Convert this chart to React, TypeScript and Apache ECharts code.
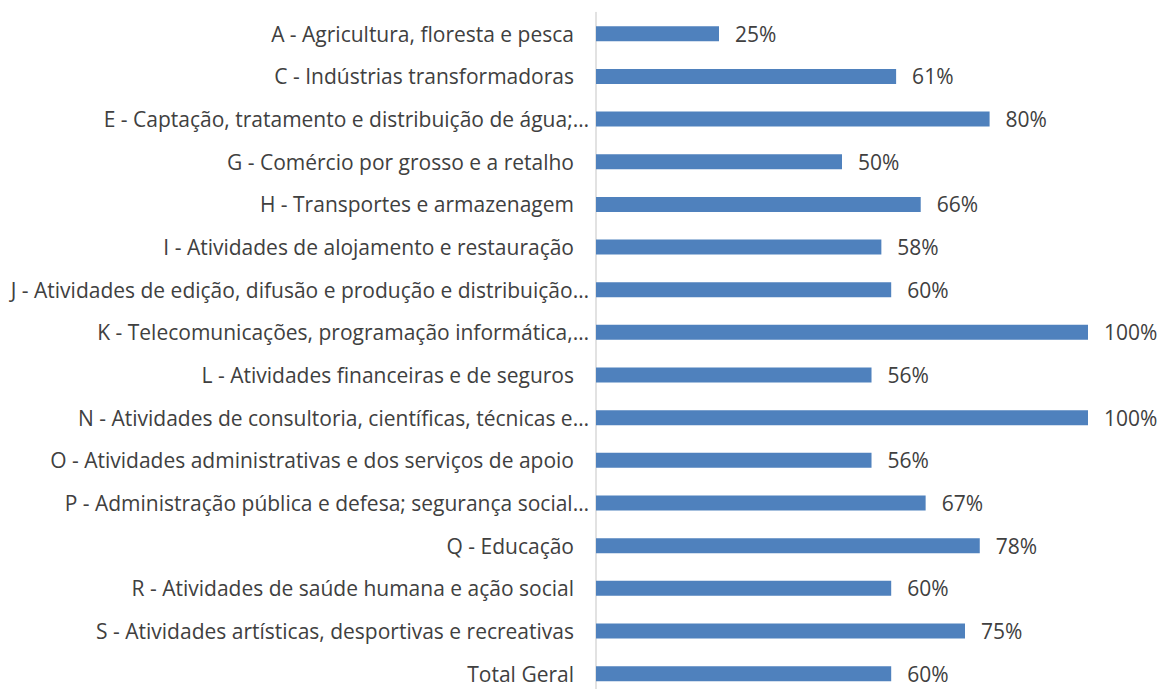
import React, { useEffect, useRef } from "react";
import * as echarts from "echarts";

const categories: string[] = [
  "A - Agricultura, floresta e pesca",
  "C - Indústrias transformadoras",
  "E - Captação, tratamento e distribuição de água;…",
  "G - Comércio por grosso e a retalho",
  "H - Transportes e armazenagem",
  "I - Atividades de alojamento e restauração",
  "J - Atividades de edição, difusão e produção e distribuição…",
  "K - Telecomunicações, programação informática,…",
  "L - Atividades financeiras e de seguros",
  "N - Atividades de consultoria, científicas, técnicas e…",
  "O - Atividades administrativas e dos serviços de apoio",
  "P - Administração pública e defesa; segurança social…",
  "Q - Educação",
  "R - Atividades de saúde humana e ação social",
  "S - Atividades artísticas, desportivas e recreativas",
  "Total Geral",
];

const values: number[] = [25, 61, 80, 50, 66, 58, 60, 100, 56, 100, 56, 67, 78, 60, 75, 60];

export default function App() {
  const ref = useRef<HTMLDivElement>(null);
  useEffect(() => {
    if (!ref.current) return;
    const chart = echarts.init(ref.current, undefined, { renderer: "svg" });
    const font = { color: "#404040", fontFamily: "Open Sans", fontSize: 21, lineHeight: 20 };
    chart.setOption({
      animation: false,
      grid: { left: 596, top: 12.4, width: 492, bottom: 0 },
      xAxis: {
        type: "value",
        min: 0,
        max: 100,
        show: false,
      },
      yAxis: {
        type: "category",
        data: categories,
        inverse: true,
        axisTick: { show: false },
        axisLine: { show: true, lineStyle: { color: "#d9d9d9", width: 1.5 } },
        axisLabel: {
          margin: 7,
          ...font,
          formatter: (v: string) => (v.endsWith("…") ? `{t|${v}}` : `{p|${v}}`),
          rich: {
            t: { ...font },
            p: { ...font, padding: [0, 15, 0, 0] },
          },
        },
        splitLine: { show: false },
      },
      series: [
        {
          type: "bar",
          data: values,
          barWidth: 15,
          itemStyle: { color: "#4f81bd" },
          label: {
            show: true,
            position: "right",
            distance: 16,
            formatter: "{c}%",
            ...font,
          },
        },
      ],
    });
    return () => chart.dispose();
  }, []);
  return (
    <div
      ref={ref}
      style={{ position: "fixed", left: 0, top: 0, width: 1160, height: 695.4, background: "#fff" }}
    />
  );
}
